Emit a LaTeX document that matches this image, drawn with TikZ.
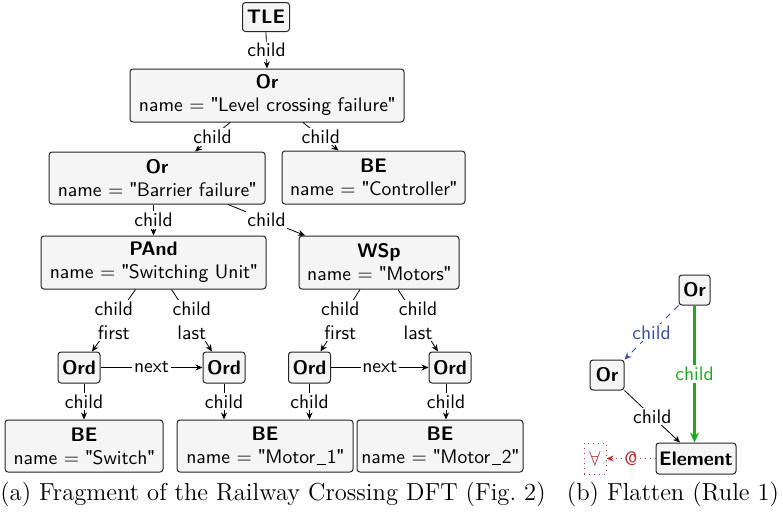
\documentclass[tikz,border=0pt]{standalone}
\usepackage{fontspec}
\newfontfamily\quotefont{TeX Gyre Heros}
\newcommand{\qq}{{\quotefont"}}
\newcommand{\ul}{\hspace{0.6pt}\rule[-0.6pt]{4.6pt}{0.4pt}\hspace{0.6pt}}
\usetikzlibrary{arrows.meta,calc}
\definecolor{boxfill}{gray}{0.96}
\definecolor{cblue}{RGB}{55,75,165}
\definecolor{cgreen}{RGB}{30,170,30}
\definecolor{cred}{RGB}{180,50,50}
\begin{document}
\begin{tikzpicture}[x=0.5pt,y=-0.5pt,
  box/.style={draw=black!85, fill=boxfill, rounded corners=1.5pt, line width=0.5pt, inner sep=0pt, align=center, font=\sffamily\fontsize{9.8}{11.5}\selectfont},
  lbl/.style={fill=white, inner sep=0.8pt, align=center, font=\sffamily\fontsize{9.8}{12}\selectfont},
  arr/.style={-{Stealth[length=3.5pt,width=3pt]}, line width=0.4pt},
  captext/.style={font=\rmfamily\fontsize{12.3}{14}\selectfont, inner sep=0pt}]
\useasboundingbox (0,0) rectangle (783,514);
% nodes (a)
\node[box, minimum width=23.5pt, minimum height=14.5pt] (tle) at (266,17) {\bfseries TLE};
\node[box, minimum width=137pt, minimum height=26.5pt] (or1) at (267,95.5) {\bfseries Or\\name = \qq Level crossing failure\qq};
\node[box, minimum width=108pt, minimum height=26pt] (or2) at (157,178) {\bfseries Or\\name = \qq Barrier failure\qq};
\node[box, minimum width=91.5pt, minimum height=26.5pt] (bec) at (373.5,177.5) {\bfseries BE\\name = \qq Controller\qq};
\node[box, minimum width=112.5pt, minimum height=26.5pt] (pand) at (153.5,262.5) {\bfseries PAnd\\name = \qq Switching Unit\qq};
\node[box, minimum width=80pt, minimum height=26.5pt] (wsp) at (379,262.5) {\bfseries WSp\\name = \qq Motors\qq};
\node[box, minimum width=21pt, minimum height=15.5pt] (ord1) at (79,367.5) {\bfseries Ord};
\node[box, minimum width=21pt, minimum height=15.5pt] (ord2) at (224,367.5) {\bfseries Ord};
\node[box, minimum width=21pt, minimum height=15.5pt] (ord3) at (309.5,367.5) {\bfseries Ord};
\node[box, minimum width=21pt, minimum height=15.5pt] (ord4) at (450,367.5) {\bfseries Ord};
\node[box, minimum width=79pt, minimum height=26pt] (bes) at (84,446) {\bfseries BE\\name = \qq Switch\qq};
\node[box, minimum width=88pt, minimum height=26pt] (bem1) at (265,446) {\bfseries BE\\name = \qq Motor\ul 1\qq};
\node[box, minimum width=83pt, minimum height=26pt] (bem2) at (440,446) {\bfseries BE\\name = \qq Motor\ul 2\qq};
% edges (a)
\draw[arr] (tle.south) -- node[lbl]{child} (or1.north);
\draw[arr] ($(or1.south)+(-37,0)$) -- node[lbl]{child} ($(or2.north)+(38,0)$);
\draw[arr] ($(or1.south)+(36,0)$) -- node[lbl]{child} ($(bec.north)+(-35,0)$);
\draw[arr] (or2.south -| pand.north) -- node[lbl]{child} (pand.north);
\draw[arr] ($(or2.south)+(71,0)$) -- node[lbl]{child} ($(wsp.north)+(-74,0)$);
\draw[arr] ($(pand.south)+(-18,0)$) -- node[lbl]{child\\first} ($(ord1.north)+(13,0)$);
\draw[arr] ($(pand.south)+(18,0)$) -- node[lbl]{child\\last} ($(ord2.north)+(-12,0)$);
\draw[arr] ($(wsp.south)+(-19,0)$) -- node[lbl]{child\\first} ($(ord3.north)+(11,0)$);
\draw[arr] ($(wsp.south)+(19,0)$) -- node[lbl]{child\\last} ($(ord4.north)+(-12,0)$);
\draw[arr] (ord1.east) -- node[lbl]{next} (ord2.west);
\draw[arr] (ord3.east) -- node[lbl]{next} (ord4.west);
\draw[arr] (ord1.south -| bes.north) -- node[lbl]{child} (bes.north);
\draw[arr] (ord2.south) -- node[lbl]{child} (ord2.south |- bem1.north);
\draw[arr] (ord3.south) -- node[lbl]{child} (ord3.south |- bem1.north);
\draw[arr] ($(ord4.south)+(-4,0)$) -- node[lbl]{child} ($(bem2.north)+(6,0)$);
% nodes (b)
\node[box, minimum width=15.5pt, minimum height=15pt] (ort) at (694.5,290) {\bfseries Or};
\node[box, minimum width=17pt, minimum height=15pt] (orl) at (607,375) {\bfseries Or};
\node[box, minimum width=40pt, minimum height=15.5pt] (elem) at (696,458.5) {\bfseries Element};
\node[draw=cred, dotted, line width=0.5pt, minimum width=11pt, minimum height=15.5pt, inner sep=0pt, text=cred] (fa) at (595,458.5) {$\forall$};
% edges (b)
\draw[arr, cblue, dashed] (ort.south west) -- node[lbl, text=cblue]{child} (orl.north east);
\draw[-{Stealth[length=5pt,width=4.5pt]}, cgreen, line width=1.3pt] (ort.south) -- node[lbl, text=cgreen]{child} (ort.south |- elem.north);
\draw[arr] (orl.south east) -- node[lbl]{child} ($(elem.north)+(-16,0)$);
\draw[arr, cred, dotted] (elem.west) -- node[lbl, text=cred]{@} (fa.east);
% captions
\node[captext] (capa) at (273,494) {(a) Fragment of the Railway Crossing DFT (Fig.~2)};
\node[captext] (capb) at (673,494) {(b) Flatten (Rule 1)};
\end{tikzpicture}
\end{document}
